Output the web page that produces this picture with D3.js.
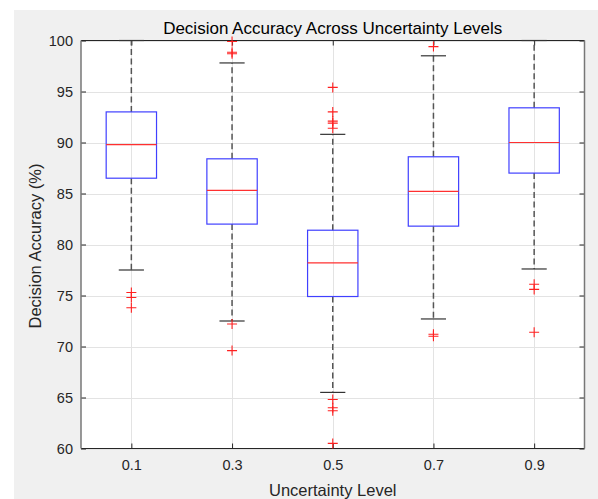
<!DOCTYPE html>
<html lang="en">
<head>
    <meta charset="UTF-8" />
    <script src="https://d3js.org/d3.v7.min.js"></script>
    <title>Decision Accuracy</title>
    <style>
        body { margin: 0; background: #fff; }
        svg { display: block; font-family: "Liberation Sans", Arial, sans-serif; }
    </style>
</head>
<body>
<svg></svg>
<script>
    // values
    let levels = ["0.1", "0.3", "0.5", "0.7", "0.9"];
    let q1 = [86.5, 82.0, 74.9, 81.8, 87.0];
    let medians = [89.8, 85.3, 78.2, 85.2, 90.0];
    let q3 = [93.0, 88.4, 81.4, 88.6, 93.4];
    let whiskerLow = [77.5, 72.5, 65.5, 72.7, 77.6];
    let whiskerHigh = [100, 97.8, 90.8, 98.5, 100];
    let outliers = [
        [75.3, 74.8, 73.8],
        [99.9, 98.85, 98.7, 72.2, 69.6],
        [95.4, 93.0, 92.1, 91.9, 91.4, 64.8, 64.0, 63.7, 60.5],
        [99.4, 71.2, 71.0],
        [76.1, 75.6, 71.4]
    ];
    let yTicks = [60, 65, 70, 75, 80, 85, 90, 95, 100];

    let width = 598, height = 499;
    let pLeft = 81, pRight = 584.5, pTop = 40.5, pBottom = 448.5;

    let svg = d3.select("svg")
        .attr("width", width)
        .attr("height", height);

    // figure background
    svg.append("rect")
        .attr("x", 14).attr("y", 10)
        .attr("width", width - 14).attr("height", height - 10)
        .attr("fill", "#f0f0f0");

    svg.append("rect")
        .attr("x", pLeft).attr("y", pTop)
        .attr("width", pRight - pLeft).attr("height", pBottom - pTop)
        .attr("fill", "#fff");

    let x = d3.scaleLinear().domain([0.5, 5.5]).range([pLeft, pRight]);
    let y = d3.scaleLinear().domain([60, 100]).range([pBottom, pTop]);
    let idx = d3.range(1, levels.length + 1);

    // grid
    let grid = svg.append("g").attr("stroke", "#e3e3e3").attr("stroke-width", 1);
    grid.selectAll(".gy").data(yTicks).enter().append("line")
        .attr("x1", pLeft).attr("x2", pRight)
        .attr("y1", d => Math.round(y(d)) + 0.5).attr("y2", d => Math.round(y(d)) + 0.5);
    grid.selectAll(".gx").data(idx).enter().append("line")
        .attr("y1", pTop).attr("y2", pBottom)
        .attr("x1", d => Math.round(x(d)) + 0.5).attr("x2", d => Math.round(x(d)) + 0.5);

    // axes
    let yAxis = svg.append("g")
        .attr("transform", "translate(" + pLeft + ",0)")
        .call(d3.axisLeft(y).tickValues(yTicks).tickSizeInner(-5).tickSizeOuter(0).tickPadding(8));
    let yAxisR = svg.append("g")
        .attr("transform", "translate(" + pRight + ",0)")
        .call(d3.axisRight(y).tickValues(yTicks).tickSizeInner(-5).tickSizeOuter(0).tickFormat(""));
    let xAxis = svg.append("g")
        .attr("transform", "translate(0," + pBottom + ")")
        .call(d3.axisBottom(x).tickValues(idx).tickFormat((d, i) => levels[i])
            .tickSizeInner(-5).tickSizeOuter(0).tickPadding(11));
    let xAxisT = svg.append("g")
        .attr("transform", "translate(0," + pTop + ")")
        .call(d3.axisTop(x).tickValues(idx).tickSizeInner(-5).tickSizeOuter(0).tickFormat(""));

    [yAxis, yAxisR, xAxis, xAxisT].forEach(a => {
        a.select(".domain").remove();
        a.selectAll(".tick line").attr("stroke", "#262626");
        a.selectAll("text").attr("fill", "#262626").style("font-size", "14.5px");
    });

    // frame
    svg.append("line").attr("x1", pLeft).attr("x2", pRight).attr("y1", pTop).attr("y2", pTop)
        .attr("stroke", "#262626");
    svg.append("line").attr("x1", pLeft).attr("x2", pRight).attr("y1", pBottom).attr("y2", pBottom)
        .attr("stroke", "#262626");
    svg.append("line").attr("x1", pLeft).attr("x2", pLeft).attr("y1", pTop).attr("y2", pBottom)
        .attr("stroke", "#777").attr("stroke-width", 1.5);
    svg.append("line").attr("x1", pRight).attr("x2", pRight).attr("y1", pTop).attr("y2", pBottom)
        .attr("stroke", "#777").attr("stroke-width", 1.5);

    let boxHalf = 0.25, capHalf = 0.125;
    let g = svg.append("g");

    // whiskers
    g.selectAll(".wh").data(idx).enter().append("line")
        .attr("x1", d => x(d)).attr("x2", d => x(d))
        .attr("y1", (d, i) => y(q3[i])).attr("y2", (d, i) => y(whiskerHigh[i]))
        .attr("stroke", "#555").attr("stroke-width", 1.5).attr("stroke-dasharray", "6,3.5");
    g.selectAll(".wl").data(idx).enter().append("line")
        .attr("x1", d => x(d)).attr("x2", d => x(d))
        .attr("y1", (d, i) => y(q1[i])).attr("y2", (d, i) => y(whiskerLow[i]))
        .attr("stroke", "#555").attr("stroke-width", 1.5).attr("stroke-dasharray", "6,3.5");

    // caps
    g.selectAll(".ch").data(idx).enter().append("line")
        .attr("x1", d => x(d - capHalf)).attr("x2", d => x(d + capHalf))
        .attr("y1", (d, i) => y(whiskerHigh[i])).attr("y2", (d, i) => y(whiskerHigh[i]))
        .attr("stroke", "#333").attr("stroke-width", 1.2);
    g.selectAll(".cl").data(idx).enter().append("line")
        .attr("x1", d => x(d - capHalf)).attr("x2", d => x(d + capHalf))
        .attr("y1", (d, i) => y(whiskerLow[i])).attr("y2", (d, i) => y(whiskerLow[i]))
        .attr("stroke", "#333").attr("stroke-width", 1.2);

    // boxes
    g.selectAll(".box").data(idx).enter().append("rect")
        .attr("x", d => x(d - boxHalf))
        .attr("width", d => x(d + boxHalf) - x(d - boxHalf))
        .attr("y", (d, i) => y(q3[i]))
        .attr("height", (d, i) => y(q1[i]) - y(q3[i]))
        .attr("fill", "none").attr("stroke", "#4040ff").attr("stroke-width", 1.2);

    // medians
    g.selectAll(".med").data(idx).enter().append("line")
        .attr("x1", d => x(d - boxHalf)).attr("x2", d => x(d + boxHalf))
        .attr("y1", (d, i) => y(medians[i])).attr("y2", (d, i) => y(medians[i]))
        .attr("stroke", "#ff3030").attr("stroke-width", 1.2);

    // outliers as red plus signs
    let pts = [];
    outliers.forEach((arr, i) => arr.forEach(v => pts.push({ k: i + 1, v: v })));
    g.selectAll(".out").data(pts).enter().append("path")
        .attr("d", d => {
            let cx = x(d.k), cy = y(d.v);
            return "M" + (cx - 5) + "," + cy + "H" + (cx + 5) + "M" + cx + "," + (cy - 5) + "V" + (cy + 5);
        })
        .attr("stroke", "#ff2020").attr("stroke-width", 1.1).attr("fill", "none");

    // titles
    svg.append("text")
        .attr("x", (pLeft + pRight) / 2).attr("y", 34)
        .attr("text-anchor", "middle")
        .style("font-size", "17px").attr("fill", "#000")
        .text("Decision Accuracy Across Uncertainty Levels");
    svg.append("text")
        .attr("x", (pLeft + pRight) / 2).attr("y", 496)
        .attr("text-anchor", "middle")
        .style("font-size", "16.5px").attr("fill", "#262626")
        .text("Uncertainty Level");
    svg.append("text")
        .attr("transform", "translate(41,246) rotate(-90)")
        .attr("text-anchor", "middle")
        .style("font-size", "16.5px").attr("fill", "#262626")
        .text("Decision Accuracy (%)");
</script>
</body>
</html>
